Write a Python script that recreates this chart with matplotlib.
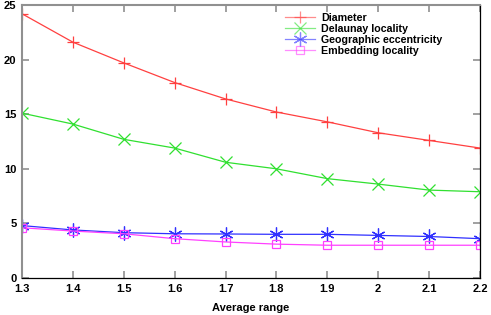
import matplotlib
matplotlib.use("Agg")
import matplotlib.pyplot as plt

x = [1.3, 1.4, 1.5, 1.6, 1.7, 1.8, 1.9, 2.0, 2.1, 2.2]
diameter = [24.2, 21.6, 19.7, 17.9, 16.4, 15.2, 14.3, 13.3, 12.6, 11.9]
delaunay = [15.1, 14.1, 12.7, 11.9, 10.6, 10.0, 9.1, 8.6, 8.05, 7.9]
geographic = [4.8, 4.4, 4.15, 4.05, 4.03, 4.0, 4.0, 3.9, 3.8, 3.6]
embedding = [4.6, 4.3, 4.05, 3.6, 3.3, 3.1, 3.0, 3.0, 3.0, 3.0]
xticks = [1.3, 1.4, 1.5, 1.6, 1.7, 1.8, 1.9, 2, 2.1, 2.2]
xticklabels = ["1.3", "1.4", "1.5", "1.6", "1.7", "1.8", "1.9", "2", "2.1", "2.2"]
yticks = [0, 5, 10, 15, 20, 25]

plt.rcParams['font.family'] = ['Liberation Sans', 'DejaVu Sans']
plt.rcParams['font.weight'] = 'bold'

fig = plt.figure(figsize=(4.91, 3.15), dpi=100)
ax = fig.add_axes([0.0448, 0.1175, 0.9328, 0.8665])

ax.plot(x, diameter, color='#ff4040', lw=0.9, marker='+', ms=9, mew=0.9, label='Diameter')
ax.plot(x, delaunay, color='#30e030', lw=0.9, marker='x', ms=9, mew=0.9, label='Delaunay locality')
ax.plot(x, geographic, color='#3030ff', lw=0.9, marker=(6, 2, 0), ms=10, mew=0.9, label='Geographic eccentricity')
ax.plot(x, embedding, color='#ff40ff', lw=0.9, marker='s', ms=6, mfc='none', mew=0.9, label='Embedding locality')

ax.set_xlim(1.3, 2.2)
ax.set_ylim(0, 25)
ax.set_xticks(xticks)
ax.set_xticklabels(xticklabels)
ax.set_yticks(yticks)
ax.tick_params(direction='in', top=True, right=True, length=5, width=1.2, color='#909090', labelsize=8, pad=4)
for s in ['left', 'top']:
    ax.spines[s].set_color('#909090')
    ax.spines[s].set_linewidth(1.5)
for s in ['right', 'bottom']:
    ax.spines[s].set_color('black')
    ax.spines[s].set_linewidth(0.9)

ax.set_xlabel('Average range', fontsize=8, fontweight='bold', labelpad=7)

leg = ax.legend(loc='upper right', bbox_to_anchor=(0.932, 0.995), frameon=False, fontsize=7.7,
                handlelength=2.8, handletextpad=0.6, labelspacing=0.1, borderaxespad=0.2)
for h in leg.legend_handles:
    h.set_alpha(0.6)

fig.savefig('out.png', dpi=100)
